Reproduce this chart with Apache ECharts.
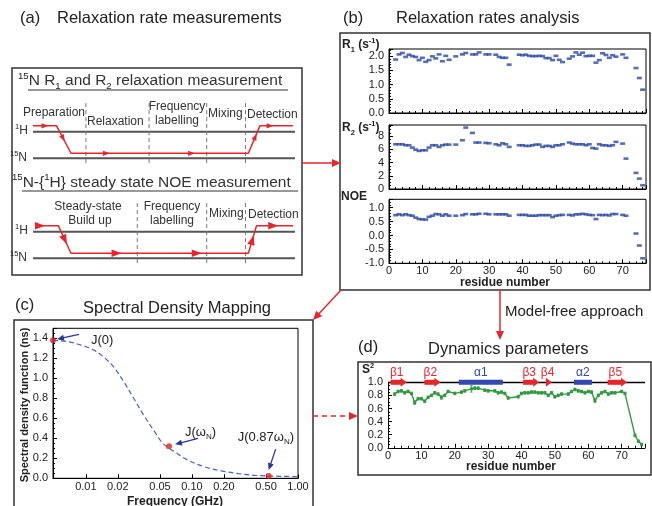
<!DOCTYPE html>
<html><head><meta charset="utf-8">
<script src="https://cdn.jsdelivr.net/npm/echarts@6/dist/echarts.min.js"></script>
<style>html,body{margin:0;padding:0;background:#fff}#c{width:652px;height:506px}</style>
</head><body><div id="c"></div>
<script>
// ---------------- DATA ----------------
const residues = [2,3,4,5,6,7,8,9,10,11,12,13,14,15,16,17,18,20,22,23,25,26,27,29,30,32,33,34,35,36,39,40,41,42,43,44,45,46,47,48,49,50,51,52,54,55,56,57,58,59,60,61,62,63,64,65,66,67,68,70,71,74,75,76];
const R1 = [1.88,2.06,2.11,1.97,2.05,2.00,1.97,1.86,1.94,1.80,1.86,1.99,1.92,2.06,1.82,2.01,1.87, 1.99, 2.06,2.11, 2.06,2.06,2.13, 2.06,2.06, 2.05,1.97,1.94,1.94,1.70, 2.05,2.03,2.05,2.01,2.00,2.00,2.01,2.00,1.93,1.93,1.86,2.01,1.87,1.79, 1.91,1.99,2.13,2.05,2.12,2.00,2.01,2.01,1.77,1.86,2.10,2.04,1.94,2.03,1.98, 2.06,1.94, 1.58,1.23,0.82];
const R2 = [6.78,6.78,6.78,6.63,6.63,6.28,5.97,5.77,5.87,5.87,6.28,6.63,6.63,6.38,6.63,6.73,6.73, 6.73, 7.39,9.31, 8.50,7.04,7.04, 6.99,6.93, 6.78,6.63,6.93,6.78,6.38, 6.63,6.63,6.53,6.53,6.63,6.73,6.73,6.38,6.53,6.53,6.38,6.63,6.63,6.78, 7.04,6.88,6.78,6.78,6.78,6.63,6.78,6.22,6.12,6.78,6.63,6.63,6.53,6.63,7.14, 6.88,4.61, 2.44,1.57,0.57];
const NOE = [0.73,0.76,0.73,0.76,0.73,0.71,0.64,0.59,0.58,0.57,0.67,0.71,0.77,0.76,0.71,0.76,0.71, 0.71, 0.73,0.77, 0.76,0.76,0.78, 0.78,0.76, 0.76,0.76,0.76,0.76,0.71, 0.74,0.74,0.74,0.71,0.71,0.71,0.73,0.73,0.73,0.73,0.66,0.71,0.73,0.74, 0.74,0.72,0.76,0.76,0.78,0.76,0.74,0.73,0.59,0.74,0.73,0.74,0.72,0.77,0.77, 0.74,0.71, 0.07,-0.36,-0.82];
const S2 = [0.82,0.86,0.87,0.84,0.86,0.83,0.69,0.75,0.75,0.71,0.77,0.80,0.84,0.82,0.77,0.80,0.86, 0.83, 0.85,0.87, 0.90,0.91,0.91, 0.88,0.87, 0.87,0.84,0.85,0.83,0.76, 0.78,0.83,0.84,0.84,0.85,0.85,0.84,0.84,0.84,0.80,0.84,0.78,0.80,0.82, 0.82,0.86,0.89,0.87,0.86,0.84,0.86,0.85,0.72,0.80,0.84,0.86,0.82,0.84,0.84, 0.86,0.83, 0.19,0.10,0.05];
const S2err = [0.02,0.02,0.02,0.02,0.02,0.02,0.03,0.02,0.02,0.02,0.02,0.02,0.02,0.02,0.03,0.02,0.02, 0.02, 0.02,0.02, 0.05,0.02,0.02, 0.02,0.02, 0.02,0.02,0.02,0.02,0.02, 0.02,0.02,0.02,0.02,0.02,0.02,0.02,0.02,0.02,0.02,0.02,0.02,0.02,0.02, 0.02,0.02,0.02,0.02,0.02,0.02,0.02,0.02,0.03,0.02,0.02,0.02,0.02,0.02,0.02, 0.02,0.02, 0.02,0.02,0.02];
// secondary structure (residue ranges)
const ssNames = ['β1','β2','α1','β3','β4','α2','β5'];
const ssType  = ['b','b','a','b','b','a','b'];
const ssStart = [0.8,10.9,21.2,40.5,47.7,55.7,65.8];
const ssEnd   = [5.6,15.7,34.4,45.3,49.1,61.1,71.6];
// spectral density curve (GHz, ns)
const freqGHz = [0.0049,0.00676,0.00903,0.01207,0.0150,0.0186,0.0232,0.0288,0.0358,0.0445,0.0532,0.0687,0.0917,0.132,0.189,0.272,0.391,0.521,0.697,1.0];
const Jcurve  = [1.38,1.366,1.332,1.279,1.205,1.104,0.953,0.785,0.617,0.466,0.349,0.265,0.181,0.114,0.074,0.047,0.030,0.023,0.020,0.016];
const jLabels = ['J(0)','J(ω{sub|N})','J(0.87ω{sub|N})'];
const jFreq = [0.0049,0.0608,0.529];
const jVal  = [1.38,0.32,0.022];
const freqTicks = [0.01,0.02,0.05,0.10,0.20,0.50,1.00];
// pulse-sequence schematics (time units 0-100; 1H level = 1, 15N level = 0)
const seq1Path = [[0,1.22],[9,1.22],[14.5,0.19],[82.2,0.19],[86.6,1.22],[99.2,1.22]];
const seq2Path = [[0.8,1.22],[9.7,1.22],[14.5,0.19],[82.2,0.19],[85.3,1.22],[99.3,1.22]];
const seq1Arrows = [[0,0.51],[1,0.456],[2,0.2],[2,0.68],[3,0.6],[4,0.31]];
const seq2Arrows = [[0,0.21],[1,0.51],[2,0.257],[2,0.709],[3,0.485],[4,0.457]];
const seq1Dividers = [20.2,44.3,66.3,81.1];
const seq2Dividers = [39.8,66.3,81.1];

// ---------------- STYLE ----------------
const FONT = '"Liberation Sans", Arial, Helvetica, sans-serif';
const RED = '#e8262a';
const DOT_BLUE = '#2c4aa3';
const SS_BLUE = '#3347b0';
const GREEN = '#2f9a3c';
const ARROW_BLUE = '#2a3796';

const chart = echarts.init(document.getElementById('c'), null, {renderer:'canvas', width:652, height:506});

function pathArrows(path, arrows, size){
  return arrows.map(([s,t]) => {
    const a = path[s], b = path[s+1];
    return [a[0]+(b[0]-a[0])*t, a[1]+(b[1]-a[1])*t, b[0]-a[0], b[1]-a[1], size];
  });
}
function arrowRender(params, api){
  const p = api.coord([api.value(0), api.value(1)]);
  const q = api.coord([api.value(0)+api.value(2), api.value(1)+api.value(3)]);
  let ux=q[0]-p[0], uy=q[1]-p[1]; const L=Math.hypot(ux,uy); ux/=L; uy/=L;
  const len=api.value(4), w=len*0.75, nx=-uy, ny=ux;
  const tip=[p[0]+ux*len/2, p[1]+uy*len/2], base=[p[0]-ux*len/2, p[1]-uy*len/2];
  return {type:'polygon', shape:{points:[tip,[base[0]+nx*w/2,base[1]+ny*w/2],[base[0]-nx*w/2,base[1]-ny*w/2]]}, style:{fill:RED}};
}
function segRender(stroke, width, dash){
  return function(params, api){
    const a = api.coord([api.value(0), api.value(1)]), b = api.coord([api.value(2), api.value(3)]);
    return {type:'line', shape:{x1:a[0],y1:a[1],x2:b[0],y2:b[1]}, style:{stroke, lineWidth:width, lineDash:dash||null}};
  };
}
const axK = ()=>({show:true, onZero:false, lineStyle:{color:'#000', width:1}});
const tickK = ()=>({show:true, inside:true, length:4, lineStyle:{color:'#000'}});
const minorK = (n)=>({show:true, splitNumber:n, length:2, lineStyle:{color:'#000'}});
const lab = (o)=>Object.assign({fontSize:11, color:'#222', fontFamily:FONT}, o);
function resX(g, show, margin){
  return {type:'value', gridIndex:g, min:0, max:77, interval:10, axisLine:axK(), axisTick:tickK(), minorTick:minorK(5), splitLine:{show:false},
    axisLabel:lab({show:show, showMaxLabel:false, margin:margin||2})};
}
function valY(g, min, max, interval, dec, minorN, showMax){
  return {type:'value', gridIndex:g, min, max, interval, axisLine:axK(), axisTick:tickK(), minorTick:minorK(minorN||5), splitLine:{show:false},
    axisLabel:lab({showMaxLabel:!!showMax, margin:5, formatter:v=>v.toFixed(dec)})};
}
const hidX = g=>({type:'value', gridIndex:g, min:0, max:100, show:false});
const hidY = g=>({type:'value', gridIndex:g, min:-0.5, max:2.2, show:false});
const frame = ()=>({show:true, borderColor:'#000', borderWidth:1, backgroundColor:'rgba(0,0,0,0)'});

const idx = residues.map((r,i)=>i);
const log10 = Math.log10;

const option = {
  animation:false,
  backgroundColor:'#fff',
  grid:[
    {left:33, top:99.8, width:262, height:71.8},
    {left:33, top:199.8, width:262, height:71.8},
    Object.assign({left:389, top:49, width:257, height:64}, frame()),
    Object.assign({left:389, top:125, width:257, height:64}, frame()),
    Object.assign({left:389, top:199.3, width:257, height:64}, frame()),
    Object.assign({left:53, top:328.3, width:245, height:150}, frame()),
    {left:388, top:382.3, width:257, height:65.5}
  ],
  xAxis:[
    hidX(0), hidX(1),
    resX(2,false), resX(3,false), resX(4,true,2),
    {type:'value', gridIndex:5, min:log10(0.0049), max:0, axisLine:axK(), splitLine:{show:false},
      axisTick:Object.assign(tickK(), {customValues:freqTicks.map(log10)}),
      axisLabel:lab({customValues:freqTicks.map(log10), margin:3, formatter:v=>Math.pow(10,v).toFixed(2)})},
    resX(6,true,3)
  ],
  yAxis:[
    hidY(0), hidY(1),
    valY(2,0,2.25,0.5,1), valY(3,0,9.7,2,0,4), valY(4,-1,1.3,0.5,1),
    valY(5,0,1.5,0.2,1,4),
    valY(6,0,1.0,0.2,1,4,true)
  ],
  series:[
    // schematic lines
    {type:'custom', xAxisIndex:0, yAxisIndex:0, encode:{x:[0,2],y:[1,3]}, renderItem:segRender('#555',2), data:[[0,1,100,1],[0,0,100,0]]},
    {type:'custom', xAxisIndex:1, yAxisIndex:1, encode:{x:[0,2],y:[1,3]}, renderItem:segRender('#555',2), data:[[0,1,100,1],[0,0,100,0]]},
    {type:'custom', xAxisIndex:0, yAxisIndex:0, encode:{x:[0,2],y:[1,3]}, renderItem:segRender('#777',1,[4,3]), data:seq1Dividers.map(x=>[x,-0.18,x,2.08])},
    {type:'custom', xAxisIndex:1, yAxisIndex:1, encode:{x:[0,2],y:[1,3]}, renderItem:segRender('#777',1,[4,3]), data:seq2Dividers.map(x=>[x,-0.18,x,2.08])},
    {type:'line', xAxisIndex:0, yAxisIndex:0, data:seq1Path, symbol:'none', lineStyle:{color:RED, width:1.5}, z:3},
    {type:'line', xAxisIndex:1, yAxisIndex:1, data:seq2Path, symbol:'none', lineStyle:{color:RED, width:1.5}, z:3},
    {type:'custom', xAxisIndex:0, yAxisIndex:0, renderItem:arrowRender, data:pathArrows(seq1Path, seq1Arrows, 7), z:4},
    {type:'custom', xAxisIndex:1, yAxisIndex:1, renderItem:arrowRender, data:pathArrows(seq2Path, seq2Arrows, 10), z:4},
    // relaxation rates
    {type:'scatter', xAxisIndex:2, yAxisIndex:2, symbol:'rect', symbolSize:[5,2.6], itemStyle:{color:DOT_BLUE}, data:idx.map(i=>[residues[i],R1[i]])},
    {type:'scatter', xAxisIndex:3, yAxisIndex:3, symbol:'rect', symbolSize:[5,2.6], itemStyle:{color:DOT_BLUE}, data:idx.map(i=>[residues[i],R2[i]])},
    {type:'scatter', xAxisIndex:4, yAxisIndex:4, symbol:'rect', symbolSize:[5,2.6], itemStyle:{color:DOT_BLUE}, data:idx.map(i=>[residues[i],NOE[i]])},
    // spectral density
    {type:'line', xAxisIndex:5, yAxisIndex:5, data:freqGHz.map((f,i)=>[log10(f),Jcurve[i]]), smooth:0.35, symbol:'none',
      lineStyle:{color:'#4563c6', width:1.2, type:[5,3]}},
    {type:'scatter', xAxisIndex:5, yAxisIndex:5, data:jFreq.map((f,i)=>[log10(f),jVal[i]]), symbolSize:6, itemStyle:{color:'#e41f1f'}, z:5},
    // dynamics parameters
    {type:'line', xAxisIndex:6, yAxisIndex:6, data:[[0,1],[77,1]], symbol:'none', lineStyle:{color:'#000', width:1.8}, z:1},
    {type:'custom', xAxisIndex:6, yAxisIndex:6, encode:{x:[0,1], y:2}, z:6,
      data:ssNames.map((n,i)=>[ssStart[i], ssEnd[i], 1]),
      renderItem:function(params, api){
        const i = params.dataIndex;
        const s = api.coord([api.value(0),1]), e = api.coord([api.value(1),1]);
        const isB = ssType[i]==='b', col = isB?RED:SS_BLUE, h=5, head=6;
        const ch = [];
        if(isB){
          ch.push({type:'rect', shape:{x:s[0], y:s[1]-h/2, width:e[0]-s[0]-head+0.5, height:h}, style:{fill:col}});
          ch.push({type:'polygon', shape:{points:[[e[0]-head,s[1]-4.5],[e[0],s[1]],[e[0]-head,s[1]+4.5]]}, style:{fill:col}});
        } else {
          ch.push({type:'rect', shape:{x:s[0], y:s[1]-h/2, width:e[0]-s[0], height:h}, style:{fill:col}});
        }
        ch.push({type:'text', x:(s[0]+e[0])/2-(isB?2:0), y:s[1]-10, style:{text:ssNames[i], fill:col, fontSize:12, fontFamily:FONT, align:'center', verticalAlign:'middle'}});
        return {type:'group', children:ch};
      }},
    {type:'custom', xAxisIndex:6, yAxisIndex:6, encode:{x:0, y:[1,2]}, z:4,
      data:idx.map(i=>[residues[i], S2[i]-S2err[i], S2[i]+S2err[i]]),
      renderItem:function(params, api){
        const a = api.coord([api.value(0), api.value(1)]), b = api.coord([api.value(0), api.value(2)]);
        return {type:'group', children:[
          {type:'line', shape:{x1:a[0],y1:a[1],x2:b[0],y2:b[1]}, style:{stroke:GREEN, lineWidth:0.8}},
          {type:'line', shape:{x1:a[0]-1.2,y1:a[1],x2:a[0]+1.2,y2:a[1]}, style:{stroke:GREEN, lineWidth:0.8}},
          {type:'line', shape:{x1:b[0]-1.2,y1:b[1],x2:b[0]+1.2,y2:b[1]}, style:{stroke:GREEN, lineWidth:0.8}}
        ]};
      }},
    {type:'line', xAxisIndex:6, yAxisIndex:6, data:idx.map(i=>[residues[i],S2[i]]), symbol:'rect', symbolSize:3,
      lineStyle:{color:GREEN, width:1.4}, itemStyle:{color:GREEN}, z:5}
  ]
};
chart.setOption(option);

// ---------------- GRAPHIC (frames, titles, annotations) ----------------
const G = [];
function T(x, y, text, size, o){
  const st = Object.assign({text, fontSize:size, fontFamily:FONT, fill:'#222', align:'left', verticalAlign:'middle'}, o||{});
  const el = {type:'text', x, y, style:st, z:50};
  if (st.rotation!==undefined){ el.rotation = st.rotation; delete st.rotation; }
  return el;
}
const richSS = (size, weight)=>({
  sup:{fontSize:size*0.62, lineHeight:size*0.65, verticalAlign:'top', fontFamily:FONT, fontWeight:weight||'normal', fill:'#222'},
  sub:{fontSize:size*0.62, lineHeight:size*0.65, verticalAlign:'bottom', fontFamily:FONT, fontWeight:weight||'normal', fill:'#222'}
});
function rect(x,y,w,h){ G.push({type:'rect', shape:{x,y,width:w,height:h}, style:{fill:null, stroke:'#333', lineWidth:1.5}, z:40}); }
function arrow(x0,y0,x1,y1,col,len,wid,dash,lw){
  const dx=x1-x0, dy=y1-y0, L=Math.hypot(dx,dy), ux=dx/L, uy=dy/L, nx=-uy, ny=ux;
  const bx=x1-ux*len, by=y1-uy*len;
  G.push({type:'line', shape:{x1:x0,y1:y0,x2:bx+ux*1,y2:by+uy*1}, style:{stroke:col, lineWidth:lw||1.5, lineDash:dash||null}, z:45});
  G.push({type:'polygon', shape:{points:[[x1,y1],[bx+nx*wid/2,by+ny*wid/2],[bx-nx*wid/2,by-ny*wid/2]]}, style:{fill:col}, z:45});
}
// panel frames
rect(12,68,290,207); rect(340,33,310,257); rect(14,320,299,200); rect(358,362,293,113);
// panel connectors
arrow(302,163,341,163,RED,9,8);
arrow(341,290,313,320,RED,9,8);
arrow(500,290,500,340,RED,9,8);
arrow(313,416,358,416,RED,9,8,[5,4]);
// panel titles
G.push(T(20,18,'(a)',16.5), T(57,18,'Relaxation rate measurements',16.5));
G.push(T(343,18,'(b)',16.5), T(396,18,'Relaxation rates analysis',16.5));
G.push(T(15,305,'(c)',16.5), T(83,308,'Spectral Density Mapping',16.5));
G.push(T(358,347,'(d)',16.5), T(428,349,'Dynamics parameters',16.5));
G.push(T(505,312,'Model-free approach',15));
// panel (a) text
const A = '#333';
G.push(T(18,81,'{sup|15}N R{sub|1} and R{sub|2} relaxation measurement',15.5,{fill:A, lineHeight:20, rich:richSS(15.5)}));
G.push({type:'line', shape:{x1:28,y1:90,x2:288,y2:90}, style:{stroke:A, lineWidth:1}, z:50});
G.push(T(12,182.7,'{sup|15}N-{{sup|1}H} steady state NOE measurement',15.5,{fill:A, lineHeight:20, rich:richSS(15.5)}));
G.push({type:'line', shape:{x1:22,y1:191,x2:298,y2:191}, style:{stroke:A, lineWidth:1}, z:50});
G.push(T(23,112.7,'Preparation',12,{fill:A}), T(87,121.7,'Relaxation',12,{fill:A}),
  T(177,106.7,'Frequency',12,{fill:A, align:'center'}), T(177,121,'labelling',12,{fill:A, align:'center'}),
  T(208,114,'Mixing',12,{fill:A}), T(247,115,'Detection',12,{fill:A}));
G.push(T(88,206.7,'Steady-state',12,{fill:A, align:'center'}), T(90,221,'Build up',12,{fill:A, align:'center'}),
  T(172,206.7,'Frequency',12,{fill:A, align:'center'}), T(172,221,'labelling',12,{fill:A, align:'center'}),
  T(209,214,'Mixing',12,{fill:A}), T(248,214.3,'Detection',12,{fill:A}));
G.push(T(15,131,'{sup|1}H',12,{fill:A, lineHeight:15, rich:richSS(12)}), T(10,158,'{sup|15}N',12,{fill:A, lineHeight:15, rich:richSS(12)}));
G.push(T(15,231,'{sup|1}H',12,{fill:A, lineHeight:15, rich:richSS(12)}), T(10,258,'{sup|15}N',12,{fill:A, lineHeight:15, rich:richSS(12)}));
// panel (b) labels
G.push(T(342,45,'R{sub|1} (s{sup|-1})',12,{fontWeight:'bold', lineHeight:16, rich:richSS(12,'bold')}));
G.push(T(342,128,'R{sub|2} (s{sup|-1})',12,{fontWeight:'bold', lineHeight:16, rich:richSS(12,'bold')}));
G.push(T(341,197,'NOE',12,{fontWeight:'bold'}));
G.push(T(505,283,'residue number',12,{fontWeight:'bold', align:'center'}));
// panel (c) labels
G.push(T(25,405,'Spectral density function (ns)',11,{fontWeight:'bold', align:'center', rotation:Math.PI/2}));
G.push(T(175,502,'Frequency (GHz)',12,{fontWeight:'bold', align:'center'}));
// panel (d) labels
G.push(T(362,370,'S{sup|2}',12,{fontWeight:'bold', lineHeight:16, rich:richSS(12,'bold')}));
G.push(T(511,467,'residue number',12,{fontWeight:'bold', align:'center'}));
// panel (c) annotations anchored on the data points
const annOff = [ {tip:[4,-1], tail:[26,-6], text:[38,0]}, {tip:[6,-2], tail:[29,-8], text:[16,-14]}, {tip:[0,-6], tail:[7,-27], text:[-31,-39]} ];
jFreq.forEach((f,i)=>{
  const p = chart.convertToPixel({xAxisIndex:5, yAxisIndex:5}, [log10(f), jVal[i]]);
  const o = annOff[i];
  arrow(p[0]+o.tail[0], p[1]+o.tail[1], p[0]+o.tip[0], p[1]+o.tip[1], ARROW_BLUE, 7, 6, null, 1.3);
  G.push(T(p[0]+o.text[0], p[1]+o.text[1], jLabels[i], 13, {lineHeight:17, rich:richSS(13)}));
});
chart.setOption({graphic:G});
</script></body></html>
